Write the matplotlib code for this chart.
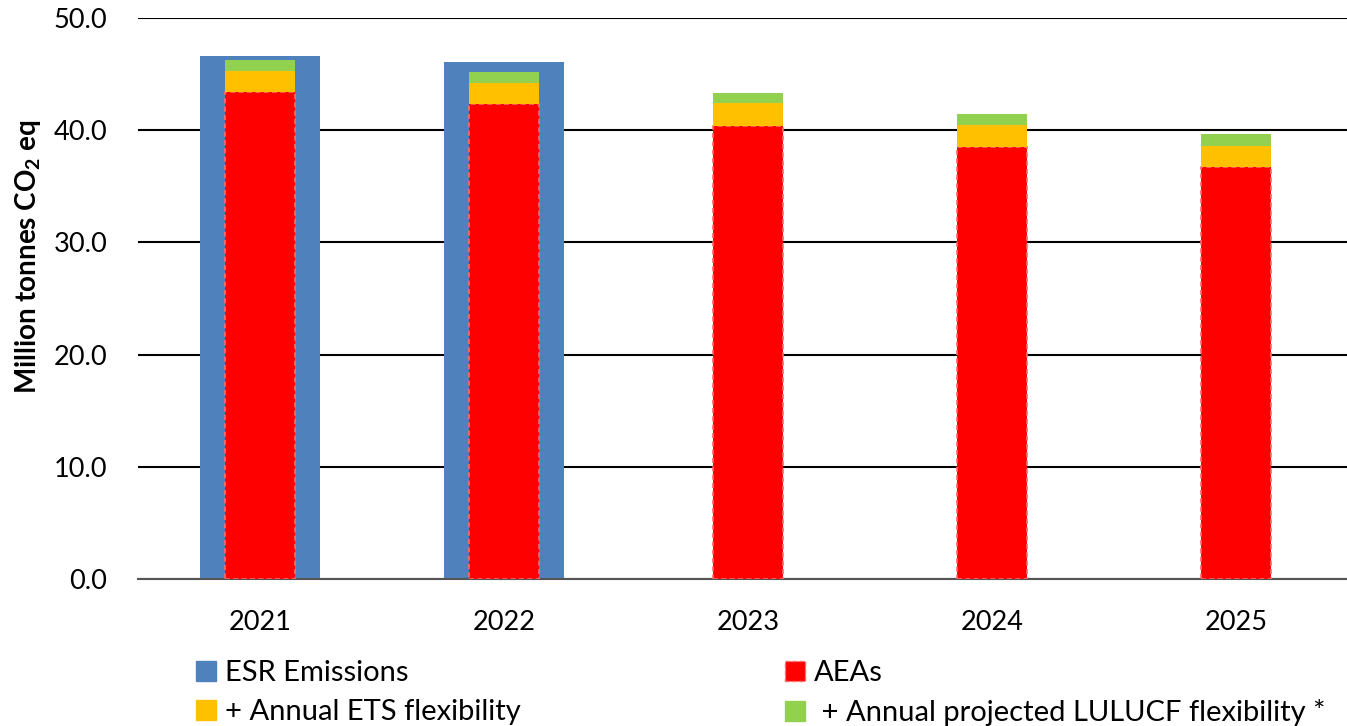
import numpy as np
import matplotlib
matplotlib.use('Agg')
import matplotlib.pyplot as plt
from matplotlib.patches import Patch

plt.rcParams['font.family'] = ['Lato', 'DejaVu Sans']
plt.rcParams['mathtext.fontset'] = 'custom'
plt.rcParams['mathtext.rm'] = 'Lato'
plt.rcParams['mathtext.bf'] = 'Lato:bold'

# Dados (milhões de toneladas CO2 eq)
anos = ['2021', '2022', '2023', '2024', '2025']
esr_emissoes = [46.6, 46.1, 0, 0, 0]
aeas = [43.4, 42.3, 40.4, 38.5, 36.7]
flex_ets = [1.9, 1.9, 2.0, 2.0, 1.9]
flex_lulucf = [1.0, 1.0, 0.9, 0.9, 1.1]

azul = '#4F81BD'
vermelho = '#FF0000'
laranja = '#FFC000'
verde = '#92D050'

fig = plt.figure(figsize=(13.47, 7.26), dpi=100)
ax = fig.add_axes([138 / 1347, 147 / 726, 1220 / 1347, 561 / 726])

x = np.arange(len(anos))
base_ets = np.array(aeas)
base_lulucf = base_ets + np.array(flex_ets)

ax.bar(x, esr_emissoes, width=0.49, color=azul, zorder=2)
ax.bar(x, aeas, width=0.29, color=vermelho, edgecolor='#FF6A6A',
       linestyle=(0, (3, 2)), linewidth=1.2, zorder=3)
ax.bar(x, flex_ets, width=0.29, bottom=base_ets, color=laranja, zorder=3)
ax.bar(x, flex_lulucf, width=0.29, bottom=base_lulucf, color=verde, zorder=3)

ax.set_xlim(-0.5, len(anos) - 0.5)
ax.set_ylim(0, 50)
ax.set_yticks(np.arange(0, 51, 10))
ax.set_yticklabels([f'{v:.1f}' for v in np.arange(0, 51, 10)], fontsize=19.5)
ax.set_xticks(x)
ax.set_xticklabels(anos, fontsize=19.5)
ax.tick_params(axis='y', length=0, pad=22)
ax.tick_params(axis='x', length=0, pad=22)
ax.yaxis.grid(True, color='black', linewidth=1.5, zorder=1)
ax.set_axisbelow(True)
for lado in ['top', 'right', 'left']:
    ax.spines[lado].set_visible(False)
ax.spines['bottom'].set_linewidth(1.5)
ax.spines['bottom'].set_color('#555555')

ax.set_ylabel(r'Million tonnes CO$_\mathbf{2}$ eq', fontsize=20,
              fontweight='bold')
ax.yaxis.set_label_coords(-95 / 1220, 0.574)

# Legenda em duas colunas
leg_args = dict(frameon=False, fontsize=21, handlelength=0.7, handleheight=0.7,
                handletextpad=0.3, labelspacing=0.45, borderaxespad=0, borderpad=0)
leg1 = fig.legend(handles=[Patch(color=azul), Patch(color=laranja)],
                  labels=['ESR Emissions', '+ Annual ETS flexibility'],
                  loc='upper left', bbox_to_anchor=(196 / 1347, 1 - 660 / 726), **leg_args)
leg2 = fig.legend(handles=[Patch(facecolor=vermelho, edgecolor='#FF6A6A', linestyle=(0, (3, 2))),
                           Patch(color=verde)],
                  labels=['AEAs', ' + Annual projected LULUCF flexibility *'],
                  loc='upper left', bbox_to_anchor=(785 / 1347, 1 - 660 / 726), **leg_args)

fig.savefig('out.png', dpi=100)
